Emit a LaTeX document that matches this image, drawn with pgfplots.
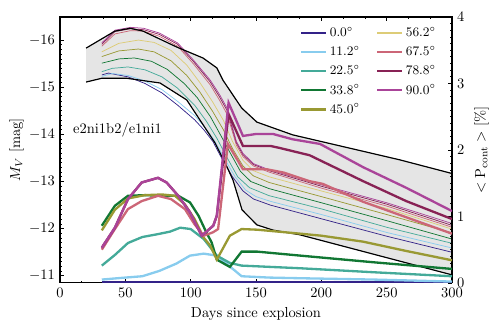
\documentclass[border=0pt]{standalone}
\usepackage{pgfplots}
\pgfplotsset{compat=1.18}
\definecolor{c00}{HTML}{332288}
\definecolor{c11}{HTML}{88CCEE}
\definecolor{c22}{HTML}{44AA99}
\definecolor{c33}{HTML}{117733}
\definecolor{c45}{HTML}{999933}
\definecolor{c56}{HTML}{DDCC77}
\definecolor{c67}{HTML}{CC6677}
\definecolor{c78}{HTML}{882255}
\definecolor{c90}{HTML}{AA4499}
\pgfplotsset{
  common/.style={scale only axis, width=270.5pt, height=183.5pt,
    xmin=0, xmax=300, tick align=inside,
    major tick length=3pt, minor tick length=1.5pt,
    every tick/.style={black, line width=0.5pt}},
  mvline/.style={line width=0.5pt},
  polline/.style={line width=1.6pt},
  legline/.style={line width=1.6pt},
}
\begin{document}
\begin{tikzpicture}
\useasboundingbox (-41.4pt,-35.2pt) rectangle (304.3pt,195.2pt);
\begin{axis}[common,
  ymin=-16.49, ymax=-10.85, y dir=reverse,
  xtick={0,50,...,300}, minor x tick num=2,
  ytick={-16,-15,-14,-13,-12,-11}, minor y tick num=9,
  ytick pos=left, xtick pos=both,
  xlabel={Days since explosion}, ylabel={$M_V$ [mag]},
  ylabel style={at={([xshift=-30pt]rel axis cs:0,0.5)}, anchor=center},
  axis line style={line width=0.8pt},
]
% envelope
\addplot[fill=black!10, draw=black!35, line width=0.4pt] coordinates {
 (20,-15.83) (42,-16.19) (53.6,-16.25) (63.5,-16.19) (89.5,-15.85) (109.4,-15.62)
 (120,-15.41) (124.7,-15.15) (139,-14.56) (150.7,-14.26) (178,-13.99) (260,-13.46) (300,-13.17)
 (300,-11.02) (183.6,-11.87) (163,-11.97) (150.7,-12.08) (139.3,-12.40) (132.4,-13.03)
 (127.8,-13.31) (118.6,-13.82) (97,-14.73) (76.5,-15.09) (51,-15.19) (32,-15.19) (20,-15.11)};
% light curves
\addplot[mvline, c00] coordinates {(32,-15.26) (37,-15.30) (52,-15.22) (65,-15.08) (78,-14.88) (90,-14.62) (103,-14.31) (110,-14.1) (117,-13.85) (124,-13.48) (132,-13.1) (140,-12.8) (148,-12.63) (161,-12.5) (200,-12.21) (250,-11.84) (300,-11.50)};
\addplot[mvline, c11] coordinates {(32,-15.23) (40,-15.29) (52,-15.25) (65,-15.13) (78,-14.95) (90,-14.70) (103,-14.40) (110,-14.18) (118,-13.88) (126,-13.48) (134,-13.1) (142,-12.82) (150,-12.68) (161,-12.58) (200,-12.3) (250,-11.92) (300,-11.59)};
\addplot[mvline, c22] coordinates {(32,-15.33) (40,-15.40) (52,-15.43) (65,-15.37) (78,-15.22) (90,-14.98) (103,-14.62) (112,-14.28) (120,-13.92) (128,-13.5) (136,-13.1) (145,-12.87) (160,-12.7) (200,-12.42) (250,-12.03) (300,-11.69)};
\addplot[mvline, c33] coordinates {(32,-15.51) (45,-15.6) (57,-15.62) (70,-15.55) (82,-15.38) (95,-15.08) (105,-14.78) (115,-14.38) (123,-13.98) (130,-13.62) (138,-13.22) (146,-13.0) (160,-12.85) (200,-12.55) (250,-12.17) (300,-11.78)};
\addplot[mvline, c45] coordinates {(32,-15.65) (45,-15.77) (60,-15.81) (72,-15.75) (85,-15.56) (97,-15.25) (107,-14.9) (117,-14.48) (125,-14.1) (132,-13.7) (140,-13.33) (148,-13.12) (160,-12.98) (200,-12.68) (250,-12.3) (300,-11.91)};
\addplot[mvline, c56] coordinates {(32,-15.75) (45,-15.93) (60,-16.0) (72,-15.95) (85,-15.78) (97,-15.47) (107,-15.1) (117,-14.68) (125,-14.3) (132,-13.85) (140,-13.45) (148,-13.23) (160,-13.1) (200,-12.8) (250,-12.43) (300,-11.99)};
\addplot[mvline, c67] coordinates {(32,-15.87) (42,-16.13) (54,-16.20) (64,-16.19) (76,-16.08) (90,-15.87) (102,-15.5) (115,-15.05) (122,-14.73) (128,-14.42) (135,-13.77) (140,-13.53) (148,-13.33) (160,-13.2) (200,-12.86) (250,-12.48) (300,-12.03)};
\addplot[mvline, c78] coordinates {(32,-15.91) (42,-16.18) (54,-16.24) (64,-16.22) (76,-16.12) (90,-15.91) (102,-15.55) (115,-15.11) (122,-14.8) (128,-14.5) (135,-13.82) (140,-13.57) (148,-13.36) (160,-13.23) (200,-12.9) (250,-12.52) (300,-12.07)};
\addplot[mvline, c90] coordinates {(32,-15.94) (42,-16.21) (54,-16.27) (64,-16.25) (76,-16.15) (90,-15.94) (102,-15.58) (115,-15.15) (122,-14.85) (128,-14.55) (135,-13.85) (140,-13.6) (148,-13.38) (160,-13.25) (200,-12.93) (250,-12.55) (300,-12.11)};
% envelope boundaries
\addplot[black, line width=0.8pt] coordinates {(20,-15.83) (42,-16.19) (53.6,-16.25) (63.5,-16.19) (89.5,-15.85) (109.4,-15.62) (120,-15.41) (124.7,-15.15) (139,-14.56) (150.7,-14.26) (178,-13.99) (260,-13.46) (300,-13.17)};
\addplot[black, line width=0.8pt] coordinates {(20,-15.11) (32,-15.19) (51,-15.19) (76.5,-15.09) (97,-14.73) (118.6,-13.82) (127.8,-13.31) (132.4,-13.03) (139.3,-12.40) (150.7,-12.08) (163,-11.97) (183.6,-11.87) (300,-11.02)};
\node[anchor=center] at (axis cs:44,-14.09) {e2ni1b2/e1ni1};
\end{axis}
\begin{axis}[common,
  ymin=0, ymax=4, axis y line*=right, axis x line=none,
  ytick={0,1,2,3,4}, minor y tick num=9,
  ylabel={$<\mathrm{P}_{\mathrm{cont}}>$ [\%]},
  axis line style={line width=0.8pt},
  legend columns=2,
  legend cell align=left,
  legend style={at={(0.6,0.985)}, anchor=north west, draw=none, fill=none,
    font=\small, row sep=1pt,
    /tikz/every even column/.append style={column sep=9pt}},
]
\addplot[polline, c00, forget plot] coordinates {(32,0.01) (300,0.01)};
\addplot[polline, c11, forget plot] coordinates {(32,0.05) (50,0.08) (63,0.10) (76,0.18) (89,0.29) (99.5,0.41) (110,0.44) (120,0.41) (139,0.10) (160,0.08) (184,0.07) (240,0.05) (300,0.02)};
\addplot[polline, c22, forget plot] coordinates {(32,0.26) (42,0.42) (52,0.6) (63,0.69) (74,0.73) (84,0.77) (92,0.83) (100,0.81) (110,0.66) (120,0.41) (130,0.30) (139,0.26) (184,0.22) (240,0.16) (300,0.10)};
\addplot[polline, c33, forget plot] coordinates {(32,0.86) (42,1.16) (52,1.31) (65,1.32) (78,1.31) (90.5,1.31) (99.5,1.21) (106,1.01) (112,0.76) (116,0.61) (120,0.35) (130,0.24) (139,0.47) (151,0.47) (184,0.41) (240,0.31) (300,0.21)};
\addplot[polline, c45, forget plot] coordinates {(32,0.79) (42,1.10) (52,1.27) (65,1.32) (78,1.33) (88,1.31) (95.6,1.18) (103,0.96) (110,0.68) (115,0.56) (120,0.35) (130,0.71) (139,0.81) (151,0.80) (184,0.74) (200,0.71) (232,0.62) (265,0.48) (300,0.34)};
\addplot[polline, c67, forget plot] coordinates {(32,0.50) (42,0.81) (52,1.11) (62.5,1.23) (75,1.31) (85,1.26) (95.6,1.11) (103,0.88) (110,0.71) (117,0.76) (121,0.81) (128.5,2.09) (140,1.71) (158,1.71) (171,1.66) (191,1.53) (201,1.49) (232,1.22) (266,0.98) (300,0.74)};
\addplot[polline, c78, forget plot] coordinates {(32,0.53) (42,0.83) (52,1.26) (62.5,1.51) (75,1.58) (81.6,1.51) (90.5,1.31) (99.5,1.06) (108.4,0.71) (117.3,0.86) (120,1.01) (129,2.54) (140,2.06) (161,2.06) (168,2.03) (191,1.92) (232,1.53) (265,1.23) (300,0.96)};
\addplot[polline, c90, forget plot] coordinates {(32,0.53) (42,0.83) (52,1.26) (62.5,1.51) (75,1.58) (81.6,1.51) (90.5,1.31) (99.5,1.06) (108.4,0.71) (117.3,0.86) (120,1.01) (129,2.71) (140,2.21) (150,2.24) (163,2.24) (178,2.16) (199,2.09) (232,1.74) (265,1.43) (300,1.08)};
\addlegendimage{legline, c00}\addlegendentry{$0.0^\circ$}
\addlegendimage{legline, c56}\addlegendentry{$56.2^\circ$}
\addlegendimage{legline, c11}\addlegendentry{$11.2^\circ$}
\addlegendimage{legline, c67}\addlegendentry{$67.5^\circ$}
\addlegendimage{legline, c22}\addlegendentry{$22.5^\circ$}
\addlegendimage{legline, c78}\addlegendentry{$78.8^\circ$}
\addlegendimage{legline, c33}\addlegendentry{$33.8^\circ$}
\addlegendimage{legline, c90}\addlegendentry{$90.0^\circ$}
\addlegendimage{legline, c45}\addlegendentry{$45.0^\circ$}
\end{axis}
\end{tikzpicture}
\end{document}
